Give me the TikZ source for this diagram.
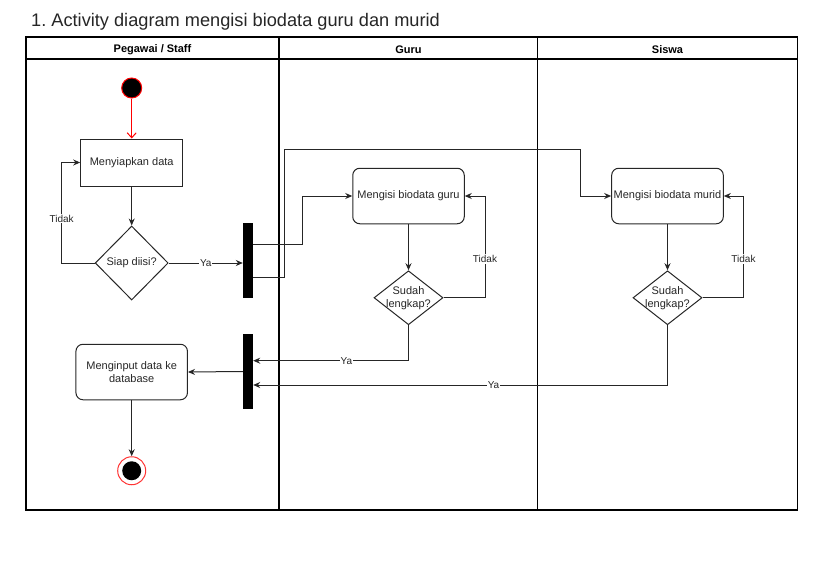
\documentclass[tikz,border=0pt]{standalone}
\usepackage{fontspec}
\setmainfont{Liberation Sans}
\usetikzlibrary{positioning, arrows.meta, shapes.geometric, calc}
\frenchspacing

\begin{document}
\begin{tikzpicture}[x=1pt, y=-1pt]
		\tikzset{
			>={Stealth[length=7pt, width=6pt]},
			every node/.style={font=\fontsize{11}{13}\selectfont, text=black!85},
			actbox/.style={draw=black!85, line width=1pt, align=center, minimum height=47pt, minimum width=102pt, inner sep=2pt},
			roundbox/.style={draw=black!85, line width=1pt, rounded corners=7pt, align=center, minimum height=55.5pt, minimum width=111.5pt, inner sep=2pt},
			decision/.style={draw=black!85, line width=1pt, diamond, inner sep=0pt, align=center},
			syncbar/.style={fill=black, inner sep=0pt, minimum width=10pt, minimum height=75pt},
			lbl/.style={font=\fontsize{10}{12}\selectfont, fill=white, inner sep=1pt},
			lanehead/.style={font=\bfseries\fontsize{11}{13}\selectfont, text=black},
			flow/.style={draw=black!85, line width=1pt, ->}
		}
		\useasboundingbox (0,0) rectangle (840,562);

		% Title
		\node[anchor=base west, inner sep=0pt, font=\fontsize{18.2}{22}\selectfont] (title) at (31,27) {1. Activity diagram mengisi biodata guru dan murid};

		% Swimlanes
		\draw[line width=1.2pt] (26,37) rectangle (797.5,510);
		\draw[line width=1.2pt] (26,59) -- (797.5,59);
		\draw[line width=1.2pt] (279,37) -- (279,510);
		\draw[line width=1.2pt] (537.5,37) -- (537.5,510);
		\node[lanehead] (staff) at (152.5,49.5) {Pegawai / Staff};
		\node[lanehead] (guruh) at (408.5,49.5) {Guru};
		\node[lanehead] (siswah) at (667.5,49.5) {Siswa};

		% Pegawai / Staff
		\node[circle, fill=black, draw=red, line width=1pt, minimum size=20pt, inner sep=0pt] (start) at (131.7,88) {};
		\node[actbox, below=40pt of start] (prep) {Menyiapkan data};
		\node[decision, minimum width=73pt, minimum height=74pt, below=39pt of prep] (dec) {Siap diisi?};
		\node[syncbar] (bar1) at (248,260.5) {};
		\node[syncbar] (bar2) at (248,371.5) {};
		\node[roundbox] (input) at (131.7,372) {Menginput data ke\\database};
		\node[circle, draw=red!80, line width=1pt, fill=white, minimum size=28pt, inner sep=0pt, below=56pt of input,
			path picture={\fill[black] (path picture bounding box.center) circle (9.5pt);}] (stop) {};

		% Guru
		\node[roundbox] (guru) at (408.5,196) {Mengisi biodata guru};
		\node[decision, minimum width=69pt, minimum height=54pt, below=46pt of guru,
			label={[align=center]center:Sudah\\lengkap?}] (gdec) {};

		% Siswa
		\node[roundbox] (murid) at (667.5,196) {Mengisi biodata murid};
		\node[decision, minimum width=69pt, minimum height=54pt, below=46pt of murid,
			label={[align=center]center:Sudah\\lengkap?}] (mdec) {};

		% Connectors
		\draw[red, line width=1pt, -{Straight Barb[length=5pt, width=9pt]}] (start) -- (prep);
		\draw[flow] (prep) -- (dec);
		\draw[flow] (dec.west) -- ++(-33,0) |- node[lbl, pos=0.22] {Tidak} (prep.west);
		\draw[flow] (dec.east) -- node[lbl] {Ya} (dec.east -| bar1.west);
		\draw[flow] ([yshift=16.5pt]bar1.east) -- ++(49,0) |- (guru.west);
		\draw[flow] ([yshift=-17pt]bar1.east) -- ++(31.5,0) |- ++(295.5,-128) |- (murid.west);

		\draw[flow] (guru) -- (gdec);
		\draw[flow] (gdec.east) -- ++(41.5,0) |- node[lbl, pos=0.19] {Tidak} (guru.east);
		\draw[flow] (gdec.south) |- node[lbl, pos=0.7] {Ya} ([yshift=10.8pt]bar2.east);

		\draw[flow] (murid) -- (mdec);
		\draw[flow] (mdec.east) -- ++(41,0) |- node[lbl, pos=0.19] {Tidak} (murid.east);
		\draw[flow] (mdec.south) |- node[lbl, pos=0.71] {Ya} ([yshift=-13.5pt]bar2.east);

		\draw[flow] (bar2.west) -- (input.east);
		\draw[flow] (input) -- (stop);

	\end{tikzpicture}
\end{document}
